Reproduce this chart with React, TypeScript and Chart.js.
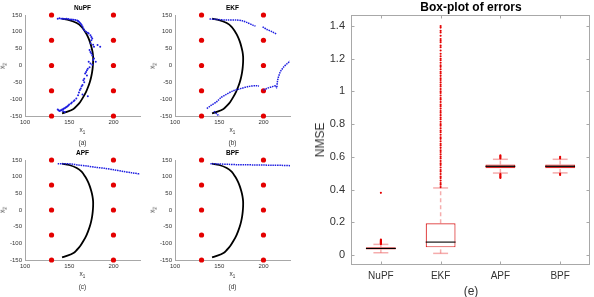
import React, { useEffect, useRef } from 'react';
import { Chart, registerables } from 'chart.js';
Chart.register(...registerables);

// ---------------- data: trajectory panels ----------------
const sensorX = [130, 200];
const sensorY = [-150, -75, 0, 75, 150];
const panelXTicks = [100, 150, 200];
const panelYTicks = [-150, -100, -50, 0, 50, 100, 150];

const trueX = [141.9, 150, 158.5, 164, 167.8, 171, 173.3, 175, 176.3, 177, 177, 176.6, 175.9, 174.8, 173.3, 171.3, 168.9, 165.8, 162.2, 158.5, 154.8, 148, 141.9];
const trueY = [139, 135, 126, 115, 101, 86, 71, 56, 41, 26, 11, -4, -19, -34, -49, -64, -79, -94, -109, -120, -129, -137, -142];

const nupfX = [137, 139, 141, 143, 145, 147, 149, 151, 153, 155, 157, 159, 160, 161, 162, 163, 164, 165, 166, 167, 169, 171, 172, 174, 175, 176, 175, 174, 177, 178, 182, 185, 173, 174, 175, 176, 178, 177, 172, 174, 176, 180, 173, 171, 170, 169, 168, 170, 167, 166, 167, 165, 164, 163, 162, 161, 160, 165, 171, 158, 156, 155, 153, 152, 150, 149, 148, 147, 146, 145, 144, 143, 142, 141, 140, 139, 138, 137, 143, 145];
const nupfY = [139, 140, 139, 139, 138, 139, 138, 137, 137, 136, 135, 134, 132, 130, 127, 124, 120, 116, 110, 105, 100, 97, 95, 90, 85, 80, 75, 66, 62, 56, 61, 56, 46, 40, 36, 30, 21, 16, 11, 6, 2, 11, -5, -10, -14, -19, -24, -30, -39, -44, -50, -58, -62, -68, -73, -80, -88, -86, -91, -98, -103, -106, -110, -113, -116, -119, -121, -123, -125, -127, -128, -130, -131, -133, -134, -135, -133, -131, -136, -138];

const ekfTopX = [139, 147, 158, 169, 176, 182, 188, 191];
const ekfTopY = [138, 137, 135, 135, 133, 127, 120, 117];
const ekfTop2X = [199, 204, 210, 215];
const ekfTop2Y = [115, 107, 100, 93];
const ekfMidX = [136, 141, 147, 152, 158, 165, 175, 184, 191, 195];
const ekfMidY = [-128, -118, -108, -95, -86, -76, -68, -62, -60, -61];
const ekfRightX = [200, 205, 211, 214, 215, 216, 219, 223, 227, 230];
const ekfRightY = [-73, -67, -62, -60, -66, -44, -19, -4, 6, 13];
const ekfLowX = [144, 146, 148, 150];
const ekfLowY = [-136, -141, -146, -150];

const apfX = [137, 145, 152, 160, 170, 180, 190, 200, 210, 220, 230];
const apfY = [139, 139, 138, 135, 132, 128, 125, 121, 116, 112, 108];
const bpfX = [140, 150, 160, 170, 180, 190, 200, 210, 220, 230];
const bpfY = [139, 138, 137, 136, 136, 135, 135, 134, 134, 133];

// ---------------- data: box plot ----------------
const categories = ['NuPF', 'EKF', 'APF', 'BPF'];
const boxQ1 = [0.033, 0.047, 0.530, 0.531];
const boxMedian = [0.040, 0.079, 0.542, 0.542];
const boxQ3 = [0.047, 0.194, 0.553, 0.553];
const whiskerLow = [0.014, 0.010, 0.501, 0.502];
const whiskerHigh = [0.065, 0.410, 0.585, 0.585];
const nupfOutliers = [0.067, 0.069, 0.071, 0.073, 0.075, 0.077, 0.079, 0.081, 0.083, 0.085, 0.088, 0.091, 0.094, 0.38];
const ekfOutliers = [0.415, 0.43, 0.44, 0.455, 0.47, 0.48, 0.495, 0.51, 0.52, 0.535, 0.55, 0.56, 0.575, 0.59, 0.60, 0.615, 0.63, 0.64, 0.655, 0.67, 0.68, 0.695, 0.71, 0.72, 0.735, 0.75, 0.76, 0.775, 0.79, 0.80, 0.815, 0.83, 0.84, 0.855, 0.87, 0.88, 0.895, 0.91, 0.92, 0.935, 0.95, 0.96, 0.975, 0.99, 1.00, 1.015, 1.03, 1.04, 1.055, 1.07, 1.08, 1.095, 1.11, 1.12, 1.135, 1.15, 1.16, 1.175, 1.19, 1.20, 1.215, 1.23, 1.25, 1.27, 1.28, 1.30, 1.31, 1.32, 1.34, 1.36, 1.37, 1.39, 1.40];
const apfOutliers = [0.59, 0.595, 0.60, 0.605, 0.61, 0.495, 0.49, 0.485, 0.48, 0.475, 0.471];
const bpfOutliers = [0.59, 0.595, 0.60, 0.497, 0.493, 0.489];
const outliers = [nupfOutliers, ekfOutliers, apfOutliers, bpfOutliers];
const boxYTicks = [0, 0.2, 0.4, 0.6, 0.8, 1, 1.2, 1.4];

// ---------------- styles ----------------
const FONT = '"Liberation Sans", Arial, Helvetica, sans-serif';
const AXIS = '#a8a8a8';
const TXT = '#333333';
const RED = 'rgb(228,0,0)';
const BLUE = 'rgb(30,30,225)';
const BOX_RED = 'rgb(220,40,40)';
const PALE_RED = 'rgba(232,70,70,0.45)';
const boxFill = ['rgba(110,80,80,0.85)', '#ffffff', 'rgba(150,150,150,0.7)', 'rgba(150,150,150,0.7)'];

const pts = (xs: number[], ys: number[]) => xs.map((x, i) => ({ x, y: ys[i] }));

type Est = { x: number[]; y: number[]; mode: 'dots' | 'line' };

function Panel(props: { left: number; top: number; height: number; padTop: number; xH: number; est: Est[] }) {
  const ref = useRef<HTMLCanvasElement>(null);
  useEffect(() => {
    const sensors: { x: number; y: number }[] = [];
    sensorX.forEach((x) => sensorY.forEach((y) => sensors.push({ x, y })));
    const datasets: any[] = [
      { data: sensors, pointRadius: 2.6, backgroundColor: RED, borderWidth: 0, clip: false, order: 3 },
      { data: pts(trueX, trueY), showLine: true, borderColor: '#000', borderWidth: 1.8, pointRadius: 0, tension: 0.3, order: 2 },
    ];
    props.est.forEach((e) => {
      if (e.mode === 'dots') {
        datasets.push({ data: pts(e.x, e.y), pointRadius: 1, backgroundColor: BLUE, borderWidth: 0, order: 1 });
      } else {
        datasets.push({ data: pts(e.x, e.y), showLine: true, borderColor: BLUE, borderWidth: 1.5, borderDash: [1.5, 0.8], pointRadius: 0, tension: 0.3, order: 1 });
      }
    });
    const tickFont = { size: 6, family: FONT };
    const chart = new Chart(ref.current as HTMLCanvasElement, {
      type: 'scatter',
      data: { datasets },
      options: {
        animation: false,
        responsive: false,
        devicePixelRatio: 1,
        events: [],
        layout: { padding: { top: props.padTop, right: 10, left: 0, bottom: 0 } },
        plugins: { legend: { display: false }, tooltip: { enabled: false }, title: { display: false } },
        scales: {
          x: {
            type: 'linear', min: 100, max: 230, offset: false,
            afterBuildTicks: (s: any) => { s.ticks = panelXTicks.map((v) => ({ value: v })); },
            afterFit: (s: any) => { s.height = props.xH; },
            grid: { display: false, drawTicks: false },
            border: { color: AXIS, width: 1 },
            ticks: { font: tickFont, color: TXT, padding: 3, autoSkip: false, maxRotation: 0 },
          },
          y: {
            type: 'linear', min: -150, max: 150,
            afterBuildTicks: (s: any) => { s.ticks = panelYTicks.map((v) => ({ value: v })); },
            afterFit: (s: any) => { s.width = 25; },
            grid: { display: false, drawTicks: false },
            border: { color: AXIS, width: 1 },
            ticks: { font: tickFont, color: TXT, padding: 3, autoSkip: false },
          },
        },
      } as any,
    });
    return () => chart.destroy();
  }, []);
  return <canvas ref={ref} width={150} height={props.height} style={{ position: 'absolute', left: props.left, top: props.top }} />;
}

const frame = {
  id: 'frame',
  beforeDatasetsDraw(chart: any) {
    const { ctx, chartArea } = chart;
    const L = Math.round(chartArea.left) + 0.5, R = Math.round(chartArea.right) - 0.5;
    const T = Math.round(chartArea.top) + 0.5, B = Math.round(chartArea.bottom) - 0.5;
    ctx.save();
    ctx.strokeStyle = AXIS;
    ctx.lineWidth = 1;
    ctx.strokeRect(L, T, R - L, B - T);
    const x = chart.scales.x, y = chart.scales.y;
    ctx.beginPath();
    y.ticks.forEach((t: any) => {
      const py = Math.round(y.getPixelForValue(t.value)) + 0.5;
      ctx.moveTo(L, py); ctx.lineTo(L + 3, py);
      ctx.moveTo(R, py); ctx.lineTo(R - 3, py);
    });
    x.ticks.forEach((t: any) => {
      const px = Math.round(x.getPixelForValue(t.value)) + 0.5;
      ctx.moveTo(px, B); ctx.lineTo(px, B - 3);
      ctx.moveTo(px, T); ctx.lineTo(px, T + 3);
    });
    ctx.stroke();
    ctx.restore();
  },
};

function BoxPlot() {
  const ref = useRef<HTMLCanvasElement>(null);
  useEffect(() => {
    const datasets: any[] = [];
    const seg = (x1: number, y1: number, x2: number, y2: number, color: string, width: number, dash: number[], order: number) => {
      datasets.push({ type: 'scatter', data: [{ x: x1, y: y1 }, { x: x2, y: y2 }], showLine: true, borderColor: color, borderWidth: width, borderDash: dash, pointRadius: 0, order });
    };
    const outPts: { x: number; y: number }[] = [];
    categories.forEach((_, i) => {
      const x = i + 1;
      seg(x, boxQ3[i], x, whiskerHigh[i], PALE_RED, 1.5, [4, 3], 5);
      seg(x, whiskerLow[i], x, boxQ1[i], PALE_RED, 1.5, [4, 3], 5);
      seg(x - 0.125, whiskerHigh[i], x + 0.125, whiskerHigh[i], PALE_RED, 1.5, [], 5);
      seg(x - 0.125, whiskerLow[i], x + 0.125, whiskerLow[i], PALE_RED, 1.5, [], 5);
      seg(x - 0.25, boxMedian[i], x + 0.25, boxMedian[i], '#000', 1.1, [], 2);
      outliers[i].forEach((v) => outPts.push({ x, y: v }));
    });
    datasets.push({
      type: 'bar',
      data: categories.map((_, i) => ({ x: i + 1, y: [boxQ1[i], boxQ3[i]] })),
      backgroundColor: boxFill,
      borderColor: BOX_RED,
      borderWidth: 1.2,
      borderSkipped: false,
      categoryPercentage: 0.5,
      barPercentage: 1,
      order: 3,
    });
    datasets.push({ type: 'scatter', data: outPts, pointRadius: 1.05, backgroundColor: RED, borderWidth: 0, order: 0 });

    const chart = new Chart(ref.current as HTMLCanvasElement, {
      type: 'scatter',
      data: { datasets },
      options: {
        animation: false,
        responsive: false,
        devicePixelRatio: 1,
        events: [],
        layout: { padding: { top: 15, right: 3, left: 0, bottom: 0 } },
        plugins: { legend: { display: false }, tooltip: { enabled: false } },
        scales: {
          x: {
            type: 'linear', min: 0.5, max: 4.5, offset: false,
            afterBuildTicks: (s: any) => { s.ticks = categories.map((_, i) => ({ value: i + 1 })); },
            afterFit: (s: any) => { s.height = 32; },
            grid: { display: false, drawTicks: false, offset: false },
            border: { display: false },
            ticks: { font: { size: 10, family: FONT }, color: TXT, padding: 5, autoSkip: false, maxRotation: 0, callback: (v: any) => categories[Math.round(v) - 1] ?? '' },
          },
          y: {
            type: 'linear', min: -0.061, max: 1.467,
            afterBuildTicks: (s: any) => { s.ticks = boxYTicks.map((v) => ({ value: v })); },
            afterFit: (s: any) => { s.width = 51; },
            grid: { display: false, drawTicks: false },
            border: { display: false },
            ticks: { font: { size: 11, family: FONT }, color: TXT, padding: 6, autoSkip: false, callback: (v: any) => (Number.isInteger(v) ? String(v) : Number(v).toFixed(1)) },
          },
        },
      } as any,
      plugins: [frame],
    });
    return () => chart.destroy();
  }, []);
  return <canvas ref={ref} width={294} height={297} style={{ position: 'absolute', left: 300, top: 0 }} />;
}

function Txt(props: { x: number; y: number; size: number; bold?: boolean; rotate?: boolean; children: React.ReactNode }) {
  return (
    <div
      style={{
        position: 'absolute', left: props.x, top: props.y,
        transform: `translate(-50%,-50%)${props.rotate ? ' rotate(-90deg)' : ''}`,
        fontFamily: FONT, fontSize: props.size, fontWeight: props.bold ? 'bold' : 'normal',
        color: props.bold ? '#000' : TXT, whiteSpace: 'nowrap', lineHeight: 1,
      }}
    >
      {props.children}
    </div>
  );
}

const panels = [
  { left: 0, top: 0, height: 150, padTop: 15, xH: 34, title: 'NuPF', tag: '(a)', est: [{ x: nupfX, y: nupfY, mode: 'dots' }] as Est[] },
  {
    left: 150, top: 0, height: 150, padTop: 15, xH: 34, title: 'EKF', tag: '(b)',
    est: [
      { x: ekfTopX, y: ekfTopY, mode: 'line' },
      { x: ekfTop2X, y: ekfTop2Y, mode: 'line' },
      { x: ekfMidX, y: ekfMidY, mode: 'line' },
      { x: ekfRightX, y: ekfRightY, mode: 'line' },
      { x: ekfLowX, y: ekfLowY, mode: 'line' },
    ] as Est[],
  },
  { left: 0, top: 150, height: 147, padTop: 10, xH: 37, title: 'APF', tag: '(c)', est: [{ x: apfX, y: apfY, mode: 'line' }] as Est[] },
  { left: 150, top: 150, height: 147, padTop: 10, xH: 37, title: 'BPF', tag: '(d)', est: [{ x: bpfX, y: bpfY, mode: 'line' }] as Est[] },
];

export default function App() {
  return (
    <div style={{ position: 'fixed', left: 0, top: 0, width: 594, height: 297, background: '#fff', overflow: 'hidden' }}>
      {panels.map((p) => {
        const cx = p.left + 82.5;
        const areaTop = p.top + p.padTop;
        const areaBottom = p.top + p.height - p.xH;
        return (
          <React.Fragment key={p.title}>
            <Panel left={p.left} top={p.top} height={p.height} padTop={p.padTop} xH={p.xH} est={p.est} />
            <Txt x={cx} y={areaTop - 7} size={6.5} bold>{p.title}</Txt>
            <Txt x={cx} y={areaBottom + 15} size={6.5}>x<sub style={{ fontSize: 4.5 }}>1</sub></Txt>
            <Txt x={cx} y={areaBottom + 27} size={6.5}>{p.tag}</Txt>
            <Txt x={p.left + 4} y={(areaTop + areaBottom) / 2} size={6.5} rotate>x<sub style={{ fontSize: 4.5 }}>2</sub></Txt>
          </React.Fragment>
        );
      })}
      <BoxPlot />
      <Txt x={471} y={6.5} size={12} bold>Box-plot of errors</Txt>
      <Txt x={320} y={140} size={12} rotate>NMSE</Txt>
      <Txt x={471} y={291} size={12}>(e)</Txt>
    </div>
  );
}
